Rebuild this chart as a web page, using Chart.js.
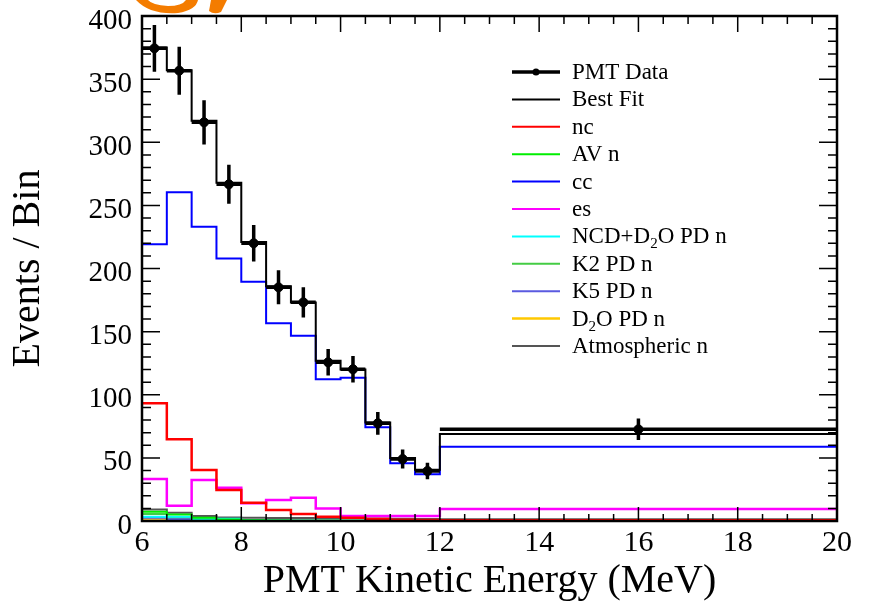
<!DOCTYPE html>
<html>
<head>
<meta charset="utf-8">
<script src="https://cdn.jsdelivr.net/npm/chart.js@4.4.0/dist/chart.umd.min.js"></script>
<style>
html, body { margin: 0; padding: 0; background: #fff; }
</style>
</head>
<body>
<canvas id="myChart" width="872" height="607"></canvas>
<script>
// bin edges in MeV (last bin is the wide 12-20 MeV one)
var binEdges = [6, 6.5, 7, 7.5, 8, 8.5, 9, 9.5, 10, 10.5, 11, 11.5, 12, 20];

var pmtData = [374.4, 356.7, 315.8, 266.7, 220, 185.1, 173.2, 125.7, 120.2, 77.4, 49.1, 39.6, 72.6];
var pmtErr  = [18.5, 19, 17.5, 15.5, 14.5, 13.5, 12, 10.5, 10.5, 9, 7.5, 6.5, 8.5];
var bestFit = [375, 357, 317, 268, 221, 186, 173, 127, 120, 78, 50, 40.5, 69];
var ncVals  = [93.2, 64.7, 40.4, 24.6, 14.5, 8.7, 5.5, 3.4, 2.6, 1.5, 1.0, 0.8, 0.5];
var avVals  = [7.4, 5.2, 2.6, 1.2, 0.6, 0.3, 0.2, 0.1, 0.1, 0.1, 0.1, 0, 0.1];
var ccVals  = [219.2, 260.3, 233.1, 208, 189.5, 156.6, 146.8, 112.2, 113.5, 74.2, 45.7, 37, 58.9];
var esVals  = [33.3, 12.1, 32.5, 26.4, 14, 16.6, 18.5, 10, 4, 4, 4, 4, 9.5];
var ncdVals = [3.4, 3.4, 1.8, 1.8, 0.6, 0.3, 0.2, 0.1, 0.1, 0, 0, 0, 0.1];
var k2Vals  = [5.5, 3.0, 1.5, 0.8, 0.3, 0.2, 0.1, 0.1, 0, 0, 0, 0, 0.1];
var k5Vals  = [2.5, 1.5, 0.8, 0.4, 0.2, 0.1, 0.1, 0, 0, 0, 0, 0, 0];
var d2oVals = [1.8, 1.0, 0.5, 0.3, 0.1, 0.1, 0, 0, 0, 0, 0, 0, 0];
var atmVals = [9.2, 6.6, 4.0, 2.8, 2.5, 2.4, 2.3, 2.2, 2.1, 2.0, 1.8, 1.6, 1.4];

var yTicks = [0, 50, 100, 150, 200, 250, 300, 350, 400];

// histogram outline: one point per bin edge, last value repeated at the right edge
function steps(values) {
    return binEdges.map(function(x, i) {
        return { x: x, y: values[Math.min(i, values.length - 1)] };
    });
}

function centers(values) {
    return values.map(function(v, i) {
        return { x: (binEdges[i] + binEdges[i + 1]) / 2, y: v };
    });
}

function hist(label, values, color, width) {
    return {
        label: label,
        data: steps(values),
        borderColor: color,
        backgroundColor: color,
        borderWidth: width || 2,
        stepped: 'before',
        pointRadius: 0,
        fill: false
    };
}

var legendItems = [
    { text: [['PMT Data']], color: '#000', width: 3.5, marker: true },
    { text: [['Best Fit']], color: '#000', width: 2 },
    { text: [['nc']], color: '#ff0000', width: 2 },
    { text: [['AV n']], color: '#00ee00', width: 2 },
    { text: [['cc']], color: '#0000ff', width: 2 },
    { text: [['es']], color: '#ff00ff', width: 2 },
    { text: [['NCD+D'], ['2', 'sub'], ['O PD n']], color: '#00ffff', width: 2 },
    { text: [['K2 PD n']], color: '#44cc44', width: 2 },
    { text: [['K5 PD n']], color: '#5a5ae0', width: 2 },
    { text: [['D'], ['2', 'sub'], ['O PD n']], color: '#ffc800', width: 2.5 },
    { text: [['Atmospheric n']], color: '#555555', width: 2 }
];

var SERIF = "'Liberation Serif', 'Times New Roman', serif";

// data points: full-bin horizontal bar plus vertical error bar
var errorBars = {
    id: 'errorBars',
    beforeDatasetDraw: function(chart, args) {
        if (args.index !== 0) return;
        var ctx = chart.ctx, xs = chart.scales.x, ys = chart.scales.y;
        ctx.save();
        ctx.strokeStyle = '#000';
        ctx.lineWidth = 3.5;
        ctx.lineCap = 'butt';
        pmtData.forEach(function(v, i) {
            var x0 = xs.getPixelForValue(binEdges[i]);
            var x1 = xs.getPixelForValue(binEdges[i + 1]);
            var xc = xs.getPixelForValue((binEdges[i] + binEdges[i + 1]) / 2);
            var y = ys.getPixelForValue(v);
            ctx.beginPath();
            ctx.moveTo(x0, y);
            ctx.lineTo(x1, y);
            ctx.moveTo(xc, ys.getPixelForValue(v - pmtErr[i]));
            ctx.lineTo(xc, ys.getPixelForValue(v + pmtErr[i]));
            ctx.stroke();
        });
        ctx.restore();
    }
};

// box frame with inward ticks on all four sides
var frame = {
    id: 'frame',
    afterDraw: function(chart) {
        var ctx = chart.ctx, a = chart.chartArea;
        var xs = chart.scales.x, ys = chart.scales.y;
        ctx.save();
        ctx.strokeStyle = '#000';
        ctx.lineWidth = 1.5;
        ctx.beginPath();
        for (var e = 6; e <= 20.001; e += 0.5) {
            var px = xs.getPixelForValue(e);
            var big = Math.abs(e % 2) < 0.001;
            var lb = big ? 14 : 7, lt = big ? 16 : 8;
            ctx.moveTo(px, a.bottom); ctx.lineTo(px, a.bottom - lb);
            ctx.moveTo(px, a.top); ctx.lineTo(px, a.top + lt);
        }
        for (var v = 0; v <= 400; v += 10) {
            var py = ys.getPixelForValue(v);
            var len = (v % 50 === 0) ? 18 : 9;
            ctx.moveTo(a.left, py); ctx.lineTo(a.left + len, py);
            ctx.moveTo(a.right, py); ctx.lineTo(a.right - len, py);
        }
        ctx.stroke();
        ctx.lineWidth = 2.5;
        ctx.strokeRect(a.left, a.top, a.right - a.left, a.bottom - a.top);
        ctx.restore();
    }
};

// legend drawn inside the plot, upper right
var boxLegend = {
    id: 'boxLegend',
    afterDraw: function(chart) {
        var ctx = chart.ctx, a = chart.chartArea;
        var lx0 = a.left + 370, lx1 = a.left + 418, tx = a.left + 430;
        var y0 = a.top + 56, dy = 27.4;
        ctx.save();
        ctx.textBaseline = 'middle';
        legendItems.forEach(function(item, i) {
            var y = y0 + i * dy;
            ctx.strokeStyle = item.color;
            ctx.lineWidth = item.width;
            ctx.beginPath();
            ctx.moveTo(lx0, y);
            ctx.lineTo(lx1, y);
            ctx.stroke();
            if (item.marker) {
                ctx.fillStyle = item.color;
                ctx.beginPath();
                ctx.arc((lx0 + lx1) / 2, y, 3.5, 0, Math.PI * 2);
                ctx.fill();
            }
            ctx.fillStyle = '#000';
            var x = tx;
            item.text.forEach(function(part) {
                var sub = part[1] === 'sub';
                ctx.font = (sub ? 15 : 23) + 'px ' + SERIF;
                ctx.fillText(part[0], x, sub ? y + 8 : y + 1);
                x += ctx.measureText(part[0]).width;
            });
        });
        ctx.restore();
    }
};

// orange fragment of the logo cut off at the top edge
var logoScrap = {
    id: 'logoScrap',
    afterDraw: function(chart) {
        var ctx = chart.ctx;
        ctx.save();
        ctx.fillStyle = '#f47c00';
        ctx.beginPath();
        ctx.moveTo(136, 0);
        ctx.quadraticCurveTo(150, 15, 178, 13);
        ctx.quadraticCurveTo(196, 10, 198, 0);
        ctx.lineTo(186, 0);
        ctx.quadraticCurveTo(182, 6, 168, 6);
        ctx.quadraticCurveTo(152, 5, 148, 0);
        ctx.closePath();
        ctx.fill();
        ctx.beginPath();
        ctx.moveTo(211, 0);
        ctx.lineTo(227, 0);
        ctx.lineTo(221, 12);
        ctx.quadraticCurveTo(214, 15, 209, 11);
        ctx.closePath();
        ctx.fill();
        ctx.restore();
    }
};

Chart.defaults.font.family = SERIF;
Chart.defaults.color = '#000';

var ctx = document.getElementById('myChart').getContext('2d');
var myChart = new Chart(ctx, {
    type: 'line',
    data: {
        datasets: [
            {
                label: 'PMT Data',
                data: centers(pmtData),
                showLine: false,
                pointRadius: 4.5,
                pointBackgroundColor: '#000',
                pointBorderColor: '#000',
                borderColor: '#000'
            },
            hist('Best Fit', bestFit, '#000', 2),
            hist('nc', ncVals, '#ff0000', 2.5),
            hist('AV n', avVals, '#00ee00', 2),
            hist('cc', ccVals, '#0000ff', 2),
            hist('es', esVals, '#ff00ff', 2.5),
            hist('NCD+D2O PD n', ncdVals, '#00ffff', 2),
            hist('K2 PD n', k2Vals, '#44cc44', 2),
            hist('K5 PD n', k5Vals, '#5a5ae0', 2),
            hist('D2O PD n', d2oVals, '#ffc800', 2),
            hist('Atmospheric n', atmVals, '#555555', 2)
        ]
    },
    options: {
        responsive: false,
        animation: false,
        events: [],
        layout: { padding: { top: 16, right: 35, left: 0, bottom: 0 } },
        plugins: {
            legend: { display: false },
            tooltip: { enabled: false }
        },
        scales: {
            x: {
                type: 'linear',
                min: 6,
                max: 20,
                grid: { display: false, drawTicks: false },
                border: { display: false },
                ticks: {
                    stepSize: 2,
                    padding: 4,
                    maxRotation: 0,
                    font: { size: 30 }
                },
                title: {
                    display: true,
                    text: 'PMT Kinetic Energy (MeV)',
                    font: { size: 40 },
                    padding: { top: 0, bottom: 2 }
                },
                afterFit: function(scale) {
                    scale.height = 86;
                    scale.paddingLeft = 0;
                    scale.paddingRight = 0;
                }
            },
            y: {
                min: 0,
                max: 400,
                grid: { display: false, drawTicks: false },
                border: { display: false },
                afterBuildTicks: function(scale) {
                    scale.ticks = yTicks.map(function(v) { return { value: v }; });
                },
                ticks: {
                    padding: 10,
                    labelOffset: 5,
                    font: { size: 29 }
                },
                title: {
                    display: true,
                    text: 'Events / Bin',
                    font: { size: 40 },
                    padding: { top: 4, bottom: 0 }
                },
                afterFit: function(scale) {
                    scale.width = 142;
                    scale.paddingTop = 0;
                    scale.paddingBottom = 0;
                }
            }
        }
    },
    plugins: [errorBars, frame, boxLegend, logoScrap]
});
</script>
</body>
</html>
